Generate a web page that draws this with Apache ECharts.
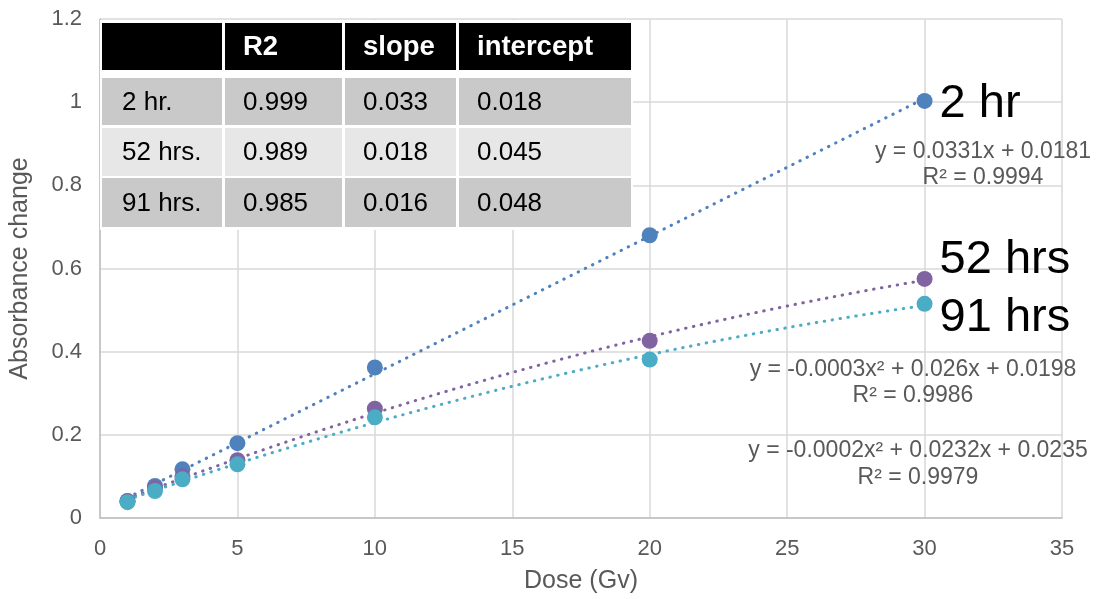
<!DOCTYPE html>
<html><head><meta charset="utf-8">
<script src="https://cdn.jsdelivr.net/npm/echarts@6/dist/echarts.min.js"></script>
<style>html,body{margin:0;padding:0;background:#fff}#c{width:1099px;height:599px}</style>
</head><body><div id="c"></div>
<script>
const doses = [1, 2, 3, 5, 10, 20, 30];
const hr2 = [0.041, 0.077, 0.117, 0.180, 0.362, 0.680, 1.003];
const hr52 = [0.040, 0.072, 0.100, 0.139, 0.263, 0.426, 0.575];
const hr91 = [0.038, 0.065, 0.093, 0.129, 0.242, 0.381, 0.515];
const seriesNames = ['2 hr', '52 hrs', '91 hrs'];
const colors = ['#4F81BD', '#8064A2', '#4BACC6'];
const fitDegree = [1, 2, 2];
const equations = ['y = 0.0331x + 0.0181', 'y = -0.0003x² + 0.026x + 0.0198', 'y = -0.0002x² + 0.0232x + 0.0235'];
const r2Labels = ['R² = 0.9994', 'R² = 0.9986', 'R² = 0.9979'];
const tableHeader = ['', 'R2', 'slope', 'intercept'];
const tableRows = [
  ['2 hr.', '0.999', '0.033', '0.018'],
  ['52 hrs.', '0.989', '0.018', '0.045'],
  ['91 hrs.', '0.985', '0.016', '0.048']
];

function polyfit(xs, ys, deg) {
  const n = deg + 1;
  const A = Array.from({length: n}, () => new Array(n + 1).fill(0));
  for (let k = 0; k < xs.length; k++) {
    for (let i = 0; i < n; i++) {
      for (let j = 0; j < n; j++) A[i][j] += Math.pow(xs[k], i + j);
      A[i][n] += ys[k] * Math.pow(xs[k], i);
    }
  }
  for (let i = 0; i < n; i++) {
    let p = i;
    for (let r = i + 1; r < n; r++) if (Math.abs(A[r][i]) > Math.abs(A[p][i])) p = r;
    [A[i], A[p]] = [A[p], A[i]];
    for (let r = 0; r < n; r++) {
      if (r === i) continue;
      const f = A[r][i] / A[i][i];
      for (let c = i; c <= n; c++) A[r][c] -= f * A[i][c];
    }
  }
  return A.map((row, i) => row[n] / row[i]);
}
function trend(ys, deg) {
  const c = polyfit(doses, ys, deg);
  const out = [];
  for (let x = doses[0]; x <= doses[doses.length - 1] + 1e-9; x += 0.25) {
    let y = 0; for (let i = 0; i < c.length; i++) y += c[i] * Math.pow(x, i);
    out.push([x, y]);
  }
  return out;
}

const allData = [hr2, hr52, hr91];
const labelOffsets = [[0, 3], [0, -19], [0, 14]];
const series = [];
allData.forEach((ys, i) => {
  series.push({
    type: 'line', name: seriesNames[i] + ' trend', data: trend(ys, fitDegree[i]),
    showSymbol: false, symbol: 'none', smooth: false, z: 2, silent: true,
    lineStyle: {color: colors[i], width: 3, type: [0.5, 7.5], cap: 'round'}
  });
});
allData.forEach((ys, i) => {
  series.push({
    type: 'scatter', name: seriesNames[i], z: 3,
    data: doses.map((d, k) => {
      const p = {value: [d, ys[k]]};
      if (k === doses.length - 1) {
        p.label = {show: true, position: 'right', distance: 7, offset: labelOffsets[i],
          formatter: seriesNames[i], fontSize: 47, color: '#000', fontFamily: 'Liberation Sans'};
      }
      return p;
    }),
    symbolSize: 16, itemStyle: {color: colors[i], opacity: 1}
  });
});

// table graphic
const colX = [102, 225, 345, 459];
const colW = [120, 117, 111, 172];
const rowY = [23, 78, 128, 178];
const rowH = [47, 47, 48, 49];
const rowFill = ['#000', '#c9c9c9', '#e7e7e7', '#c9c9c9'];
const textX = [122, 243, 363, 477];
const graphic = [{type: 'rect', shape: {x: 100, y: 20, width: 533, height: 210}, style: {fill: '#fff'}, z: 10}];
[tableHeader].concat(tableRows).forEach((row, r) => {
  row.forEach((txt, c) => {
    graphic.push({type: 'rect', shape: {x: colX[c], y: rowY[r], width: colW[c], height: rowH[r]},
      style: {fill: rowFill[r]}, z: 11});
    graphic.push({type: 'text', x: textX[c], y: rowY[r] + rowH[r] / 2 + 1, z: 12,
      style: {text: txt, fill: r === 0 ? '#fff' : '#000', font: (r === 0 ? 'bold 27.5px' : '26px') + ' "Liberation Sans"',
        verticalAlign: 'middle', align: 'left'}});
  });
});
const eqPos = [[983, 152, 178], [913, 370, 396], [918, 451, 478]];
equations.forEach((e, i) => {
  graphic.push({type: 'text', x: eqPos[i][0], y: eqPos[i][1], z: 5,
    style: {text: e, fill: '#595959', font: '23px "Liberation Sans"', align: 'center', verticalAlign: 'middle'}});
  graphic.push({type: 'text', x: eqPos[i][0], y: eqPos[i][2], z: 5,
    style: {text: r2Labels[i], fill: '#595959', font: '23px "Liberation Sans"', align: 'center', verticalAlign: 'middle'}});
});

const chart = echarts.init(document.getElementById('c'), null, {renderer: 'canvas'});
chart.setOption({
  animation: false,
  backgroundColor: '#fff',
  grid: {left: 100, right: 37, top: 19, bottom: 79, containLabel: false},
  xAxis: {type: 'value', min: 0, max: 35, interval: 5,
    name: 'Dose (Gv)', nameLocation: 'middle', nameGap: 51,
    nameTextStyle: {color: '#595959', fontSize: 25, fontFamily: 'Liberation Sans'},
    axisLine: {show: true, lineStyle: {color: '#bfbfbf', width: 1.5}},
    axisTick: {show: false},
    axisLabel: {color: '#595959', fontSize: 22, margin: 20, fontFamily: 'Liberation Sans'},
    splitLine: {show: true, lineStyle: {color: '#d9d9d9', width: 1.5}}
  },
  yAxis: {type: 'value', min: 0, max: 1.2, interval: 0.2,
    name: 'Absorbance change', nameLocation: 'middle', nameGap: 67, nameRotate: 90,
    nameTextStyle: {color: '#595959', fontSize: 25, fontFamily: 'Liberation Sans'},
    axisLine: {show: true, lineStyle: {color: '#bfbfbf', width: 1.5}},
    axisTick: {show: false},
    axisLabel: {color: '#595959', fontSize: 22, margin: 18, fontFamily: 'Liberation Sans',
      formatter: v => String(Math.round(v * 10) / 10)},
    splitLine: {show: true, lineStyle: {color: '#d9d9d9', width: 1.5}}
  },
  series: series,
  graphic: graphic
});
</script>
</body></html>
